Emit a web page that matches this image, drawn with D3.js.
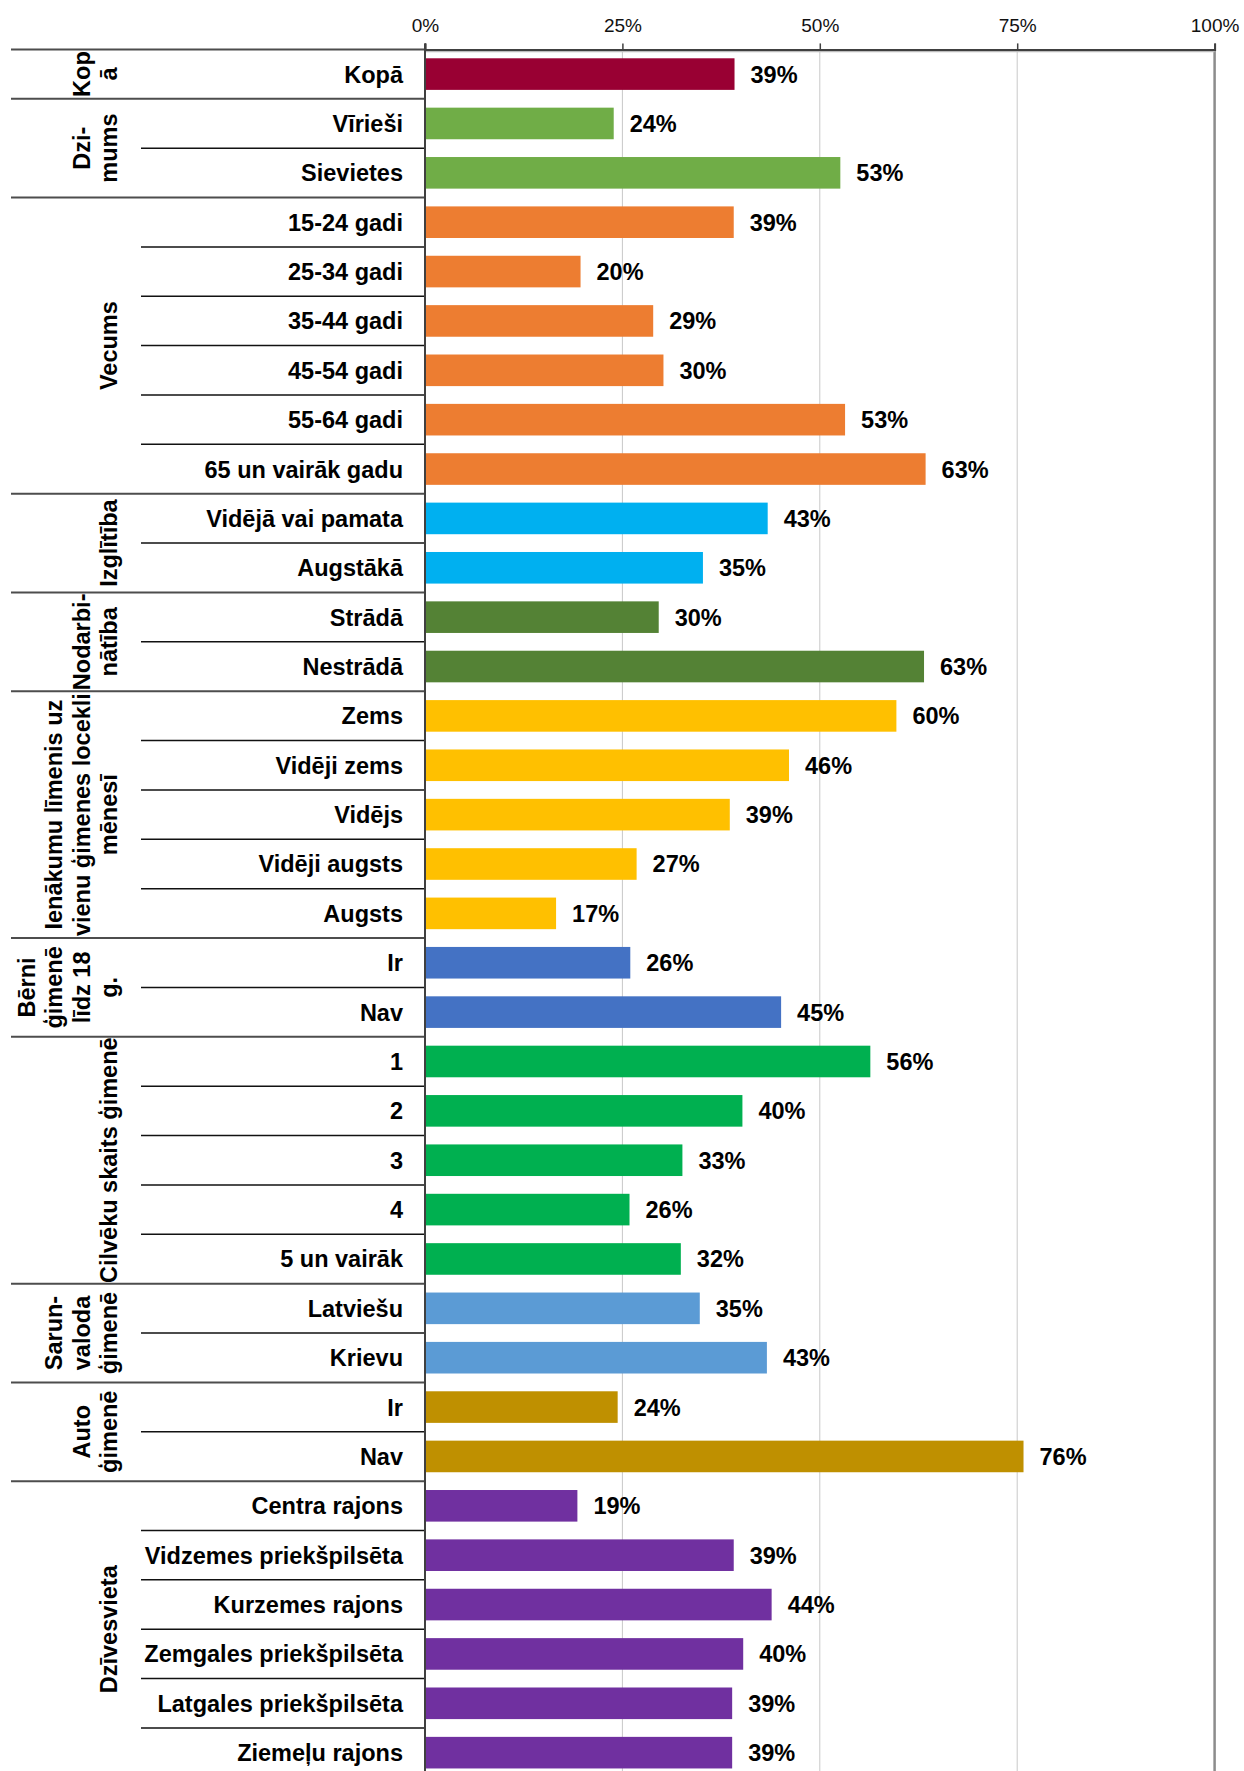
<!DOCTYPE html>
<html>
<head>
<meta charset="utf-8">
<script src="https://cdn.jsdelivr.net/npm/d3@7"></script>
<style>
  body { margin: 0; background: #fff; }
  text { font-family: "Liberation Sans", Arial, sans-serif; }
</style>
</head>
<body>
<div class="container"></div>
<script>
const w = 1244
const h = 1771

// data
const categories = [
  'Kopā',
  'Vīrieši', 'Sievietes',
  '15-24 gadi', '25-34 gadi', '35-44 gadi', '45-54 gadi', '55-64 gadi', '65 un vairāk gadu',
  'Vidējā vai pamata', 'Augstākā',
  'Strādā', 'Nestrādā',
  'Zems', 'Vidēji zems', 'Vidējs', 'Vidēji augsts', 'Augsts',
  'Ir', 'Nav',
  '1', '2', '3', '4', '5 un vairāk',
  'Latviešu', 'Krievu',
  'Ir', 'Nav',
  'Centra rajons', 'Vidzemes priekšpilsēta', 'Kurzemes rajons', 'Zemgales priekšpilsēta', 'Latgales priekšpilsēta', 'Ziemeļu rajons'
]
const values = [
  39.2,
  23.9, 52.6,
  39.1, 19.7, 28.9, 30.2, 53.2, 63.4,
  43.4, 35.2,
  29.6, 63.2,
  59.7, 46.1, 38.6, 26.8, 16.6,
  26.0, 45.1,
  56.4, 40.2, 32.6, 25.9, 32.4,
  34.8, 43.3,
  24.4, 75.8,
  19.3, 39.1, 43.9, 40.3, 38.9, 38.9
]
const groupSizes = [1, 2, 6, 2, 2, 5, 2, 5, 2, 2, 6]
const groupLabels = [
  ['Kop', 'ā'],
  ['Dzi-', 'mums'],
  ['Vecums'],
  ['Izglītība'],
  ['Nodarbi-', 'nātība'],
  ['Ienākumu līmenis uz', 'vienu ģimenes locekli', 'mēnesī'],
  ['Bērni', 'ģimenē', 'līdz 18', 'g.'],
  ['Cilvēku skaits ģimenē'],
  ['Sarun-', 'valoda', 'ģimenē'],
  ['Auto', 'ģimenē'],
  ['Dzīvesvieta']
]
const groupColors = ['#990033', '#70ad47', '#ed7d31', '#00b0f0', '#548235', '#ffc000',
  '#4472c4', '#00b050', '#5b9bd5', '#bf9000', '#7030a0']
const tickValues = [0, 25, 50, 75, 100]

// layout
const x0 = 425, x1 = 1214.6
const plotTop = 49.4
const step = 49.37
const rowIdx = categories.map((d, i) => i)

// which group each row belongs to
const groupOfRow = []
const groupStart = []
let acc = 0
groupSizes.forEach((n, g) => {
  groupStart.push(acc)
  for (let k = 0; k < n; k++) groupOfRow.push(g)
  acc += n
})

const svg = d3.select('.container')
  .append('svg')
  .attr('width', w)
  .attr('height', h)
  .style('display', 'block')

const xScale = d3.scaleLinear().domain([0, 100]).range([x0, x1])
const yScale = d3.scaleBand()
  .domain(rowIdx)
  .range([plotTop, plotTop + step * categories.length])
  .paddingInner(0.36)
  .paddingOuter(0.18)
const rowTop = i => plotTop + i * step

// gridlines
svg.append('g')
  .selectAll('line')
  .data([25, 50, 75])
  .enter()
  .append('line')
  .attr('x1', d => xScale(d)).attr('x2', d => xScale(d))
  .attr('y1', plotTop).attr('y2', h)
  .attr('stroke', '#c8c8c8')
  .attr('stroke-width', 1)

// right border of plot
svg.append('line')
  .attr('x1', xScale(100)).attr('x2', xScale(100))
  .attr('y1', plotTop).attr('y2', h)
  .attr('stroke', '#8c8c8c')
  .attr('stroke-width', 2.5)

// light grey plot top border
svg.append('line')
  .attr('x1', x0).attr('x2', x1)
  .attr('y1', plotTop + 2).attr('y2', plotTop + 2)
  .attr('stroke', '#bdbdbd')
  .attr('stroke-width', 1.5)

// bars
svg.append('g')
  .selectAll('rect')
  .data(values)
  .enter()
  .append('rect')
  .attr('x', xScale(0))
  .attr('y', (d, i) => yScale(i))
  .attr('width', d => xScale(d) - xScale(0))
  .attr('height', yScale.bandwidth())
  .attr('fill', (d, i) => groupColors[groupOfRow[i]])

// value labels
svg.append('g')
  .selectAll('text')
  .data(values)
  .enter()
  .append('text')
  .attr('x', d => xScale(d) + 16)
  .attr('y', (d, i) => yScale(i) + yScale.bandwidth() / 2)
  .attr('dy', '0.36em')
  .style('font-size', '23.5px')
  .style('font-weight', 'bold')
  .text(d => Math.round(d) + '%')

// top axis
const xAxis = d3.axisTop(xScale)
  .tickValues(tickValues)
  .tickSize(6)
  .tickPadding(11)
  .tickFormat(d => d + '%')
const ax = svg.append('g')
  .attr('transform', 'translate(0,' + plotTop + ')')
  .call(xAxis)
ax.select('.domain').attr('stroke', '#404040').attr('stroke-width', 2)
ax.selectAll('.tick line').attr('stroke', '#404040').attr('stroke-width', 1.5)
ax.selectAll('.tick text')
  .style('font-family', '"Liberation Sans", Arial, sans-serif')
  .style('font-size', '19px')
  .attr('fill', '#111')

// row separators (inner lines short, group lines long)
const boundaries = d3.range(0, categories.length)
svg.append('g')
  .selectAll('line')
  .data(boundaries)
  .enter()
  .append('line')
  .attr('x1', i => groupStart.includes(i) ? 11 : 141)
  .attr('x2', x0)
  .attr('y1', i => rowTop(i)).attr('y2', i => rowTop(i))
  .attr('stroke', i => groupStart.includes(i) ? '#4d4d4d' : '#111')
  .attr('stroke-width', i => groupStart.includes(i) ? 2 : 1.5)

// left axis line
svg.append('line')
  .attr('x1', x0).attr('x2', x0)
  .attr('y1', plotTop - 6).attr('y2', h)
  .attr('stroke', '#404040')
  .attr('stroke-width', 2)

// category labels
svg.append('g')
  .selectAll('text')
  .data(categories)
  .enter()
  .append('text')
  .attr('x', 403)
  .attr('y', (d, i) => yScale(i) + yScale.bandwidth() / 2)
  .attr('dy', '0.36em')
  .attr('text-anchor', 'end')
  .style('font-size', '23.5px')
  .style('font-weight', 'bold')
  .text(d => d)

// group labels, rotated
const lineStep = 27.5
const lastBase = 117
groupLabels.forEach((lines, g) => {
  const yc = rowTop(groupStart[g]) + groupSizes[g] * step / 2
  lines.forEach((t, k) => {
    const bx = lastBase - (lines.length - 1 - k) * lineStep
    svg.append('text')
      .attr('transform', 'translate(' + bx + ',' + yc + ') rotate(-90)')
      .attr('text-anchor', 'middle')
      .style('font-size', '23.5px')
      .style('font-weight', 'bold')
      .text(t)
  })
})
</script>
</body>
</html>
